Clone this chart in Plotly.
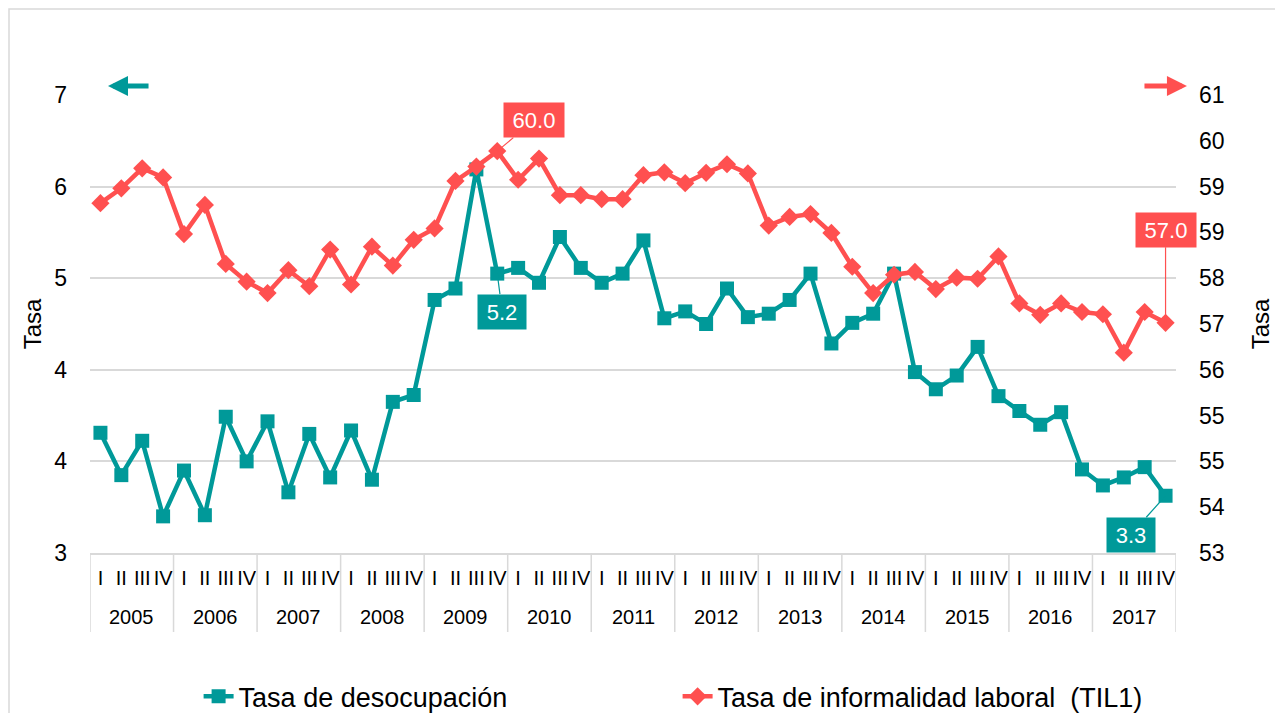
import plotly.graph_objects as go

years = ["2005", "2006", "2007", "2008", "2009", "2010", "2011", "2012", "2013",
         "2014", "2015", "2016", "2017"]
quarters = ["I", "II", "III", "IV"]

desocupacion = [3.85, 3.48, 3.78, 3.12, 3.52, 3.13, 3.99, 3.60, 3.95, 3.33, 3.84, 3.46,
                3.87, 3.44, 4.12, 4.18, 5.01, 5.11, 6.15, 5.24, 5.29, 5.16, 5.56, 5.29,
                5.16, 5.24, 5.53, 4.85, 4.91, 4.80, 5.11, 4.86, 4.89, 5.01, 5.24, 4.63,
                4.81, 4.89, 5.24, 4.38, 4.23, 4.35, 4.60, 4.17, 4.04, 3.92, 4.03, 3.53,
                3.39, 3.46, 3.55, 3.30]

informalidad = [59.11, 59.37, 59.72, 59.56, 58.57, 59.08, 58.05, 57.74, 57.54, 57.94, 57.66, 58.30,
                57.69, 58.35, 58.02, 58.47, 58.67, 59.50, 59.75, 60.02, 59.52, 59.89, 59.25, 59.25,
                59.18, 59.18, 59.60, 59.65, 59.46, 59.64, 59.79, 59.63, 58.72, 58.87, 58.92, 58.59,
                58.00, 57.54, 57.86, 57.91, 57.61, 57.81, 57.79, 58.18, 57.36, 57.16, 57.36, 57.21,
                57.17, 56.50, 57.21, 57.02]

# labelled points: (index, ax, ay)
labels_deso = [(19, 5, 38), (51, -35, 39)]
labels_info = [(19, 37, -31), (51, 0, -93)]

TEAL = "#009999"
RED = "#FF5050"
GRID = "#D9D9D9"
FONT = "Liberation Sans, Arial, sans-serif"

x_labels = [f"{y} {q}" for y in years for q in quarters]
q_text = [q for y in years for q in quarters]
n = len(x_labels)
nq = len(quarters)

fig = go.Figure()
fig.add_trace(go.Scatter(
    x=x_labels, y=desocupacion, name="Tasa de desocupación", mode="lines+markers",
    line=dict(color=TEAL, width=4.5), marker=dict(symbol="square", size=14, color=TEAL),
    yaxis="y"))
fig.add_trace(go.Scatter(
    x=x_labels, y=informalidad, name="Tasa de informalidad laboral  (TIL1)", mode="lines+markers",
    line=dict(color=RED, width=4.5), marker=dict(symbol="diamond", size=14, color=RED),
    yaxis="y2"))

annotations = []
for idx, ax, ay in labels_deso:
    annotations.append(dict(
        x=x_labels[idx], y=desocupacion[idx], xref="x", yref="y", text=f"{desocupacion[idx]:.1f}",
        showarrow=True, arrowhead=0, arrowwidth=1.2, arrowcolor=TEAL, ax=ax, ay=ay,
        bgcolor=TEAL, font=dict(color="white", size=22, family=FONT),
        width=40, height=26, borderpad=4))
for idx, ax, ay in labels_info:
    annotations.append(dict(
        x=x_labels[idx], y=informalidad[idx], xref="x", yref="y2", text=f"{informalidad[idx]:.1f}",
        showarrow=True, arrowhead=0, arrowwidth=1.2, arrowcolor=RED, ax=ax, ay=ay,
        bgcolor=RED, font=dict(color="white", size=22, family=FONT),
        width=52, height=26, borderpad=4))

# year group labels below quarter labels
for k, yr in enumerate(years):
    annotations.append(dict(x=k * nq + (nq - 1) / 2, y=-0.1397, xref="x", yref="paper",
                            text=yr, showarrow=False, yanchor="middle",
                            font=dict(size=20, family=FONT, color="black")))

# axis direction arrows
annotations.append(dict(x=0.0166, y=1.0197, xref="paper", yref="paper", text="",
                        showarrow=True, arrowhead=2, arrowsize=0.8, arrowwidth=5,
                        arrowcolor=TEAL, ax=42, ay=0))
annotations.append(dict(x=1.0101, y=1.0197, xref="paper", yref="paper", text="",
                        showarrow=True, arrowhead=2, arrowsize=0.8, arrowwidth=5,
                        arrowcolor=RED, ax=-44, ay=0))

shapes = [dict(type="rect", xref="paper", yref="paper",
               x0=(1 - 82) / 1086, x1=1.3, y0=-0.6, y1=(545 - 1) / 458,
               line=dict(color=GRID, width=1.5), layer="below")]
for k in range(len(years) + 1):
    shapes.append(dict(type="line", xref="x", yref="paper",
                       x0=k * nq - 0.5, x1=k * nq - 0.5, y0=0, y1=-0.1725,
                       line=dict(color=GRID, width=1.5)))

fig.update_layout(
    width=1283, height=713,
    margin=dict(l=82, r=115, t=87, b=168, autoexpand=False),
    paper_bgcolor="white", plot_bgcolor="white",
    font=dict(family=FONT, color="black"),
    showlegend=True,
    legend=dict(orientation="h", x=0.1, y=-0.314, xanchor="left", yanchor="middle",
                font=dict(size=27, family=FONT), entrywidth=434, entrywidthmode="pixels"),
    xaxis=dict(type="category", range=[-0.5, n - 0.5], autorange=False,
               tickmode="array", tickvals=x_labels, ticktext=q_text,
               showgrid=False, ticks="", tickangle=0, zeroline=False,
               tickfont=dict(size=20, family=FONT), ticklabelstandoff=6,
               showline=True, linecolor=GRID, linewidth=1.5),
    yaxis=dict(range=[2.8, 6.8], tick0=2.8, dtick=0.8, tickformat=".0f",
               showgrid=True, gridcolor=GRID, gridwidth=1.5, zeroline=False,
               tickfont=dict(size=23, family=FONT), ticklabelstandoff=22,
               title=dict(text="Tasa", font=dict(size=24, family=FONT), standoff=5)),
    yaxis2=dict(range=[53, 61], tick0=53, dtick=0.8, tickformat=".0f",
                overlaying="y", side="right", showgrid=False, zeroline=False,
                tickfont=dict(size=23, family=FONT), ticklabelstandoff=22,
                title=dict(text="Tasa", font=dict(size=24, family=FONT), standoff=28)),
    annotations=annotations,
    shapes=shapes,
)

fig.write_html("out.html")
